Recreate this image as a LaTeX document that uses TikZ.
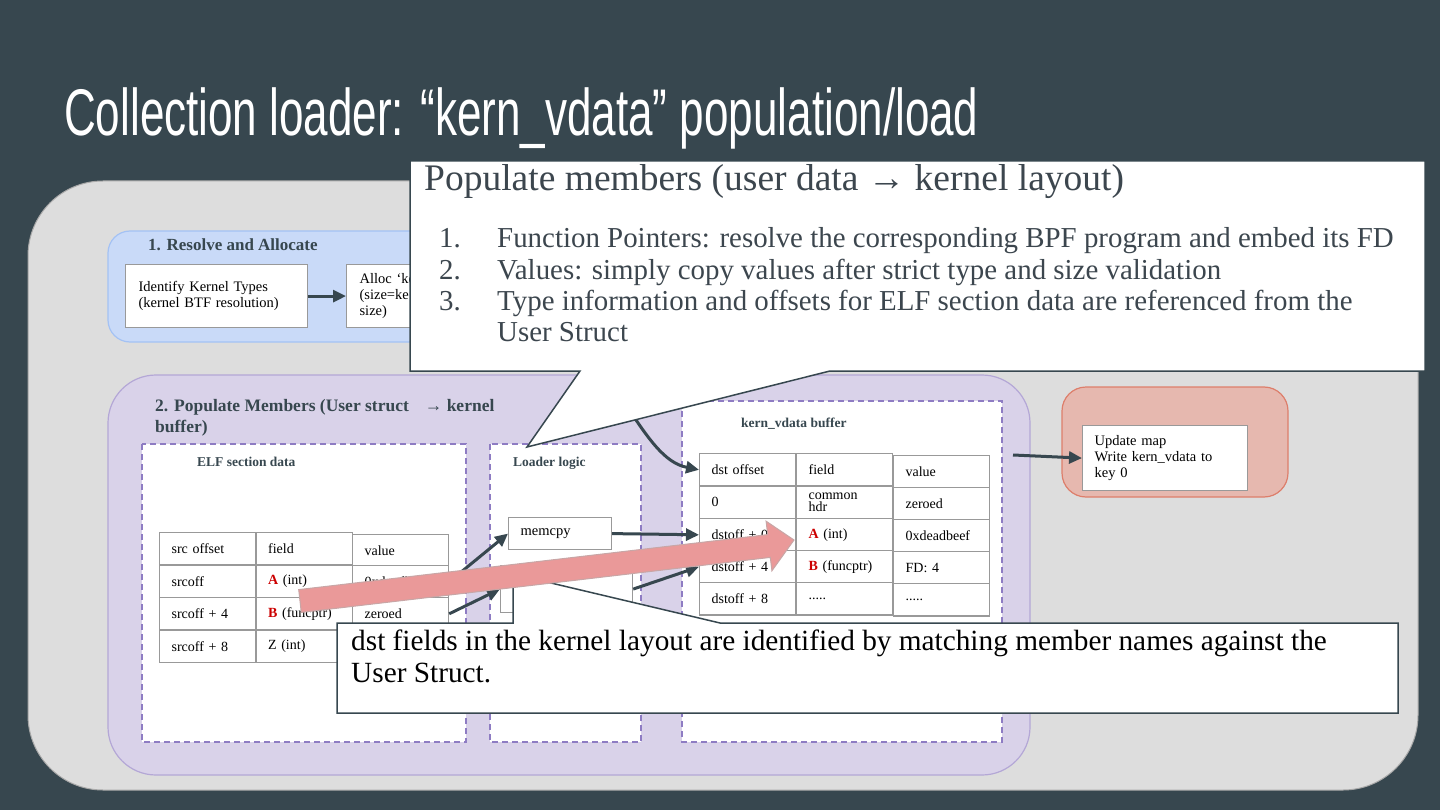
\documentclass[tikz,border=0pt]{standalone}
\usepackage{fontspec}
\setmainfont{Liberation Serif}
\newfontfamily\titlefont{Liberation Sans}
\usetikzlibrary{arrows.meta}
\definecolor{bg}{HTML}{37474F}
\definecolor{panelfill}{HTML}{DDDDDD}
\definecolor{panelline}{HTML}{A8A8A8}
\definecolor{bluefill}{HTML}{C9DAF8}
\definecolor{blueline}{HTML}{A4C2F4}
\definecolor{purpfill}{HTML}{D9D2E9}
\definecolor{purpline}{HTML}{B4A7D6}
\definecolor{dashc}{HTML}{8E7CC3}
\definecolor{redfill}{HTML}{E6B8AF}
\definecolor{redline}{HTML}{DD7E6B}
\definecolor{pinkfill}{HTML}{EA9999}
\definecolor{pinkline}{HTML}{C8A6A6}
\definecolor{tblgray}{HTML}{999999}
\definecolor{arrc}{HTML}{37474F}
\definecolor{hd}{HTML}{37474F}
\definecolor{calltext}{HTML}{3C464E}
\definecolor{redA}{HTML}{CC0000}
\tikzset{
  lbl/.style={inner sep=0pt, anchor=base west, text=hd},
  box/.style={draw=tblgray, line width=1.2pt, fill=white, inner ysep=0pt, align=left, anchor=north west, font=\fontsize{14.5}{16}\selectfont},
  cell/.style={draw=tblgray, line width=1.2pt, fill=white, minimum height=32.4pt, text width=72pt, inner xsep=12pt, inner ysep=0pt, align=left, anchor=north west, font=\fontsize{14}{12}\selectfont},
  dbox/.style={draw=dashc, dash pattern=on 6pt off 4pt, line width=1.2pt, fill=white},
  arr/.style={draw=arrc, line width=3pt, -{Triangle[length=13pt,width=12pt]}},
  callout/.style={draw=bg, line width=1.5pt, fill=white},
}
\begin{document}
\begin{tikzpicture}[x=1pt,y=-1pt]
\useasboundingbox (0,0) rectangle (1440,810);
\fill[bg] (0,0) rectangle (1440,810);
% title
\node[anchor=base west, text=white, inner sep=0pt] (title) at (64,136)
  {\titlefont\fontsize{66}{70}\selectfont\scalebox{0.667}[1]{Collection loader: “kern\_vdata” population/load}};
% panel
\draw[draw=panelline, fill=panelfill, line width=1pt, rounded corners=75pt] (28,181) rectangle (1418,790);
% group 1
\draw[draw=blueline, fill=bluefill, line width=1.2pt, rounded corners=22pt] (108,231) rectangle (700,342);
\node[lbl, font=\bfseries\fontsize{17}{17}\selectfont] (g1title) at (148,251) {1. Resolve and Allocate};
\node[box, minimum width=182pt, minimum height=63pt, text width=156pt, inner xsep=13pt] (ident) at (125,264)
  {Identify Kernel Types\\(kernel BTF resolution)};
\node[box, minimum width=140pt, minimum height=63pt, text width=114pt, inner xsep=13pt] (alloc) at (346,264)
  {Alloc ‘ke\\(size=ke\\size)};
\draw[arr] (ident.east) -- (alloc.west);
% group 2
\draw[draw=purpline, fill=purpfill, line width=1.2pt, rounded corners=48pt] (108,375) rectangle (1030,775);
\node[lbl, anchor=north west, align=left, font=\bfseries\fontsize{17.5}{21}\selectfont] (g2title) at (155,399)
  {2. Populate Members (User struct\hspace{16pt}{\mdseries →} kernel\\buffer)};
% group 3
\draw[draw=redline, fill=redfill, line width=1.2pt, rounded corners=24pt] (1062,387) rectangle (1288,497);
\node[box, minimum width=165pt, minimum height=65pt, text width=141pt, inner xsep=12pt] (upd) at (1082,425)
  {Update map\\Write kern\_vdata to\\key 0};
% dashed boxes
\draw[dbox] (142,444) rectangle (466,742);
\draw[dbox] (490,444) rectangle (641,742);
\draw[dbox] (682,401) rectangle (1002,742);
\node[lbl, font=\bfseries\fontsize{13.5}{14}\selectfont] (elft) at (197,466) {ELF section data};
\node[lbl, font=\bfseries\fontsize{13.5}{14}\selectfont] (ldrt) at (513,466) {Loader logic};
\node[lbl, font=\bfseries\fontsize{13.5}{14}\selectfont] (kbt) at (741,427) {kern\_vdata buffer};
% ELF table
\node[cell] (e11) at (159,532) {src offset};
\node[cell] (e12) at (255.5,532) {field};
\node[cell] (e13) at (352,533.5) {value};
\node[cell] (e21) at (159,564.5) {srcoff};
\node[cell] (e22) at (255.5,564.5) {\textcolor{redA}{\textbf{A}} (int)};
\node[cell] (e23) at (352,565) {0xdeadbeef};
\node[cell] (e31) at (159,597) {srcoff + 4};
\node[cell] (e32) at (255.5,597) {\textcolor{redA}{\textbf{B}} (funcptr)};
\node[cell] (e33) at (352,597) {zeroed};
\node[cell] (e41) at (159,629.5) {srcoff + 8};
\node[cell] (e42) at (255.5,629.5) {Z (int)};
\node[cell] (e43) at (352,629.5) {};
% loader logic
\node[box, minimum width=97pt, minimum height=32pt, text width=79pt, inner xsep=12pt, font=\fontsize{14.5}{14}\selectfont] (memcpy) at (508,517) {memcpy};
\node[box, minimum width=132pt, minimum height=47pt, text width=110pt, inner xsep=11pt] (hid) at (500,565) {};
% kern table
\node[cell] (k11) at (699,453) {dst offset};
\node[cell] (k12) at (796,453) {field};
\node[cell] (k13) at (893,455) {value};
\node[cell] (k21) at (699,485.5) {0};
\node[cell, font=\fontsize{14}{12.5}\selectfont] (k22) at (796,485.5) {common\\hdr};
\node[cell] (k23) at (893,487) {zeroed};
\node[cell] (k31) at (699,518) {dstoff + 0};
\node[cell] (k32) at (796,518) {\textcolor{redA}{\textbf{A}} (int)};
\node[cell] (k33) at (893,519) {0xdeadbeef};
\node[cell] (k41) at (699,550) {dstoff + 4};
\node[cell] (k42) at (796,550) {\textcolor{redA}{\textbf{B}} (funcptr)};
\node[cell] (k43) at (893,551) {FD: 4};
\node[cell] (k51) at (699,582) {dstoff + 8};
\node[cell] (k52) at (796,582) {.....};
\node[cell] (k53) at (893,583) {.....};
% arrows
\coordinate (cstart) at (618,392);
\coordinate (kout) at (1013,455);
\draw[arr] (e23.east) -- (memcpy.west);
\draw[arr] (e33.east) -- (hid.west);
\draw[arr] (memcpy.east) -- (k31.west);
\draw[arr] (hid.east) -- (k41.west);
\draw[arr] (cstart) .. controls (648,440) and (665,463) .. (k11.west);
\draw[arr] (kout) -- (upd.west);
% bottom callout
\draw[callout] (337,623) -- (513,623) -- (513,574) -- (720,623) -- (1398,623) -- (1398,713) -- (337,713) -- cycle;
\begin{scope}[every node/.style={inner sep=0pt, anchor=base west, text=black, font=\fontsize{29.3}{32}\selectfont}]
\node (bn1) at (351,650) {dst fields in the kernel layout are identified by matching member names against the};
\node (bn2) at (351,682) {User Struct.};
\end{scope}
% pink block arrow
\draw[draw=pinkline, fill=pinkfill, line width=1pt, line join=miter]
  (298.7,589.6) -- (767.7,534.6) -- (766.1,521.2) -- (794,540) -- (771.9,570.8) -- (770.3,557.4) -- (301.3,612.4) -- cycle;
% top callout
\draw[callout] (410,161) -- (1425,161) -- (1425,371) -- (830,371) -- (527,447) -- (580,371) -- (410,371) -- cycle;
\node[inner sep=0pt, anchor=base west, text=calltext, font=\fontsize{37.5}{38}\selectfont] (ctitle) at (424,191)
  {Populate members (user data → kernel layout)};
\begin{scope}[every node/.style={inner sep=0pt, text=calltext, font=\fontsize{28.9}{31.3}\selectfont}]
\node[anchor=base east] (n1) at (461,248) {1.};
\node[anchor=base east] (n2) at (461,279.3) {2.};
\node[anchor=base east] (n3) at (461,310.6) {3.};
\node[anchor=base west] (i1) at (497,248) {Function Pointers: resolve the corresponding BPF program and embed its FD};
\node[anchor=base west] (i2) at (497,279.3) {Values: simply copy values after strict type and size validation};
\node[anchor=base west] (i3a) at (497,310.6) {Type information and offsets for ELF section data are referenced from the};
\node[anchor=base west] (i3b) at (497,341.9) {User Struct};
\end{scope}
\end{tikzpicture}
\end{document}
